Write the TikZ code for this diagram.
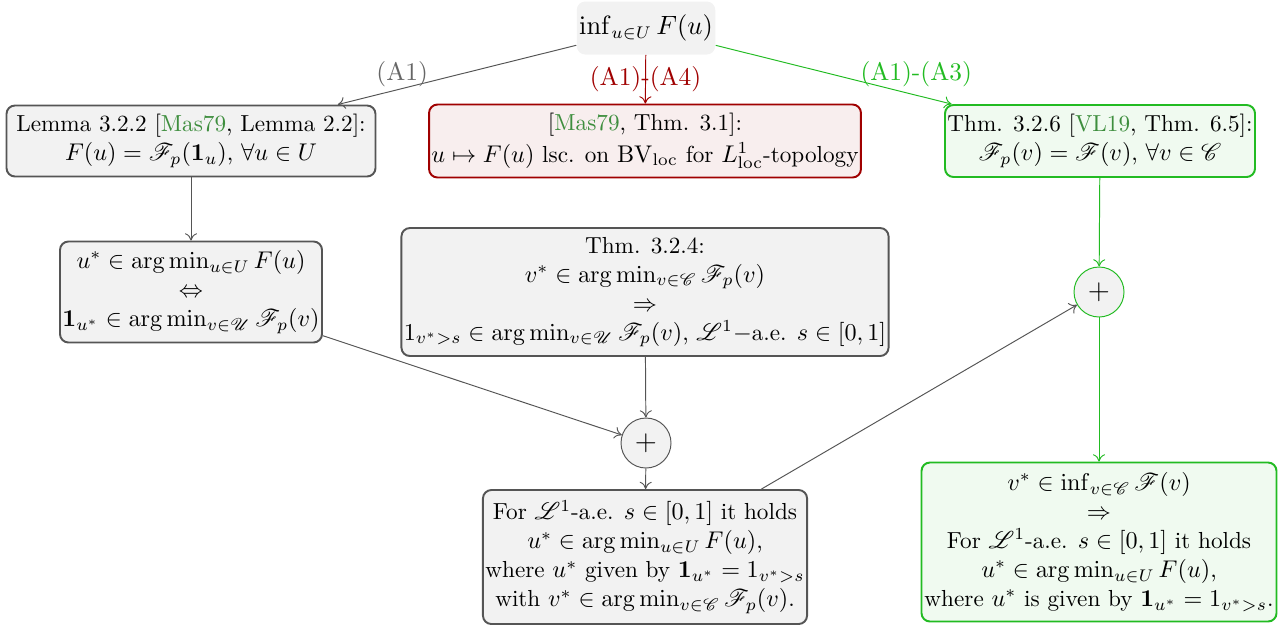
\documentclass[tikz,border=0pt]{standalone}
\usepackage{amsmath,amssymb,mathrsfs}
\usetikzlibrary{arrows.meta}
\definecolor{citegreen}{HTML}{3E8E3E}
\definecolor{boxgray}{HTML}{F2F2F2}
\definecolor{edgegray}{HTML}{555555}
\definecolor{labelgray}{HTML}{666666}
\definecolor{darkred}{HTML}{A00000}
\definecolor{redfill}{HTML}{F8EEEE}
\definecolor{brightgreen}{HTML}{22BB22}
\definecolor{greenfill}{HTML}{F0FAF0}
\newcommand{\cit}[1]{\textcolor{citegreen}{#1}}
\tikzset{
  sz/.style 2 args={minimum width=#1*0.4138pt, minimum height=#2*0.4138pt},
  graybox/.style={draw=edgegray, fill=boxgray, line width=0.8pt, rounded corners=3.5pt, align=center, inner sep=1pt},
  redbox/.style={draw=darkred, fill=redfill, line width=0.8pt, rounded corners=3.5pt, align=center, inner sep=1pt},
  greenbox/.style={draw=brightgreen, fill=greenfill, line width=0.8pt, rounded corners=3.5pt, align=center, inner sep=1pt},
  topbox/.style={fill=boxgray, rounded corners=3.5pt, align=center, inner sep=1pt},
  plusnode/.style={circle, fill=boxgray, draw=edgegray, line width=0.4pt, minimum size=50*0.4138pt, inner sep=0pt, font=\fontsize{12}{12}\selectfont},
  gconn/.style={draw=edgegray, line width=0.4pt, -{To[length=3pt,width=5pt]}},
  rconn/.style={draw=darkred, line width=0.4pt, -{To[length=3pt,width=5pt]}},
  vconn/.style={draw=brightgreen, line width=0.4pt, -{To[length=3pt,width=5pt]}},
  lbl/.style={font=\fontsize{10.5}{12}\selectfont},
}
\begin{document}
\begin{tikzpicture}[x=0.4138pt,y=-0.4138pt, font=\fontsize{9.6}{12}\selectfont]
\useasboundingbox (0,0) rectangle (1287,628);
\node[topbox, sz={133}{53}, font=\fontsize{10.5}{12}\selectfont] (top) at (646,28) {$\inf_{u\in U} F(u)$};
\node[graybox, sz={369}{71}] (lem) at (191,141) {Lemma 3.2.2 [\cit{Mas79}, Lemma 2.2]:\\ $F(u)=\mathscr{F}_p(\mathbf{1}_u)$, $\forall u\in U$};
\node[redbox, sz={428}{73}] (mas) at (645,141) {[\cit{Mas79}, Thm. 3.1]:\\[1pt] $u\mapsto F(u)$ lsc. on $\mathrm{BV}_{\mathrm{loc}}$ for $L^{1}_{\mathrm{loc}}$-topology};
\node[greenbox, sz={307}{72}] (thm6) at (1100,141) {Thm. 3.2.6 [\cit{VL19}, Thm. 6.5]:\\ $\mathscr{F}_p(v)=\mathscr{F}(v)$, $\forall v\in\mathscr{C}$};
\node[graybox, sz={258}{101}] (eq) at (191,292) {$u^*\in\arg\min_{u\in U}F(u)$\\ $\Leftrightarrow$\\ $\mathbf{1}_{u^*}\in\arg\min_{v\in\mathscr{U}}\mathscr{F}_p(v)$};
\node[graybox, sz={485}{128}] (thm4) at (645,292) {Thm. 3.2.4:\\ $v^*\in\arg\min_{v\in\mathscr{C}}\mathscr{F}_p(v)$\\ $\Rightarrow$\\ $1_{v^*>s}\in\arg\min_{v\in\mathscr{U}}\mathscr{F}_p(v)$, $\mathscr{L}^1-$a.e. $s\in[0,1]$};
\node[plusnode] (p1) at (646,443) {$+$};
\node[plusnode, draw=brightgreen] (p2) at (1099,292) {$+$};
\node[graybox, sz={322}{134}] (res) at (645,557) {For $\mathscr{L}^1$-a.e. $s\in[0,1]$ it holds\\ $u^*\in\arg\min_{u\in U}F(u)$,\\ where $u^*$ given by $\mathbf{1}_{u^*}=1_{v^*>s}$\\ with $v^*\in\arg\min_{v\in\mathscr{C}}\mathscr{F}_p(v)$.};
\node[greenbox, sz={355}{159}] (fin) at (1099,542) {$v^*\in\inf_{v\in\mathscr{C}}\mathscr{F}(v)$\\ $\Rightarrow$\\ For $\mathscr{L}^1$-a.e. $s\in[0,1]$ it holds\\ $u^*\in\arg\min_{u\in U}F(u)$,\\ where $u^*$ is given by $\mathbf{1}_{u^*}=1_{v^*>s}$.};
\draw[gconn] (top) -- node[lbl, pos=0.73, above, yshift=-3pt, text=labelgray] {(A1)} (lem);
\draw[rconn] (top) -- node[lbl, pos=0.5, text=darkred] {(A1)-(A4)} (mas);
\draw[vconn] (top) -- node[lbl, pos=0.85, above, text=brightgreen] {(A1)-(A3)} (thm6);
\draw[gconn] (lem) -- (eq);
\draw[gconn] (eq) -- (p1);
\draw[gconn] (thm4) -- (p1);
\draw[gconn] (p1) -- (res);
\draw[gconn] (res) -- (p2);
\draw[vconn] (thm6) -- (p2);
\draw[vconn] (p2) -- (fin);
\end{tikzpicture}
\end{document}
